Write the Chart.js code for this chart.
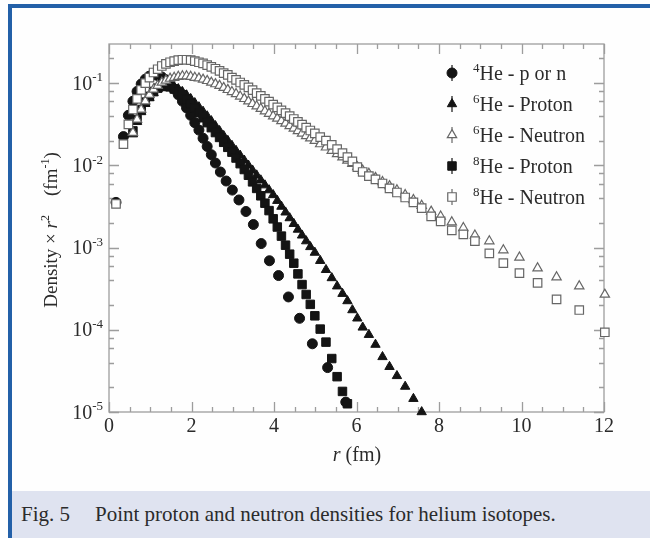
<!DOCTYPE html>
<html>
<head>
<meta charset="utf-8">
<title>Point proton and neutron densities for helium isotopes</title>
<script src="https://cdn.jsdelivr.net/npm/chart.js@4.4.1/dist/chart.umd.min.js"></script>
<style>
  html, body { margin: 0; padding: 0; background: #fff; }
  #figure { position: relative; width: 650px; height: 538px; overflow: hidden; background: #fefefe; }
  #frame {
    position: absolute; left: 8px; top: 4px; right: -10px; bottom: -10px;
    border-left: 4px solid #2360a8; border-top: 4px solid #2360a8;
  }
  #chart { position: absolute; left: 0; top: 0; }
  #caption {
    position: absolute; left: 12px; right: 0; top: 491px; height: 47px;
    background: #dfe3f0; color: #2b2b2b;
    font-family: "Liberation Serif", "Times New Roman", serif; font-size: 21px;
    line-height: 47px; padding-left: 9px; white-space: nowrap;
  }
  #caption .body { margin-left: 25px; }
</style>
</head>
<body>
<div id="figure">
  <div id="frame"></div>
  <canvas id="chart" width="650" height="538"></canvas>
  <div id="caption"><span>Fig. 5</span><span class="body">Point proton and neutron densities for helium isotopes.</span></div>
</div>
<script>
// radius grid shared by the 6He / 8He curves (fm)
const gridR = [
  0.17, 0.35, 0.47, 0.58, 0.68, 0.78, 0.88, 0.98, 1.08, 1.18,
  1.28, 1.38, 1.48, 1.58, 1.68, 1.78, 1.88, 1.98, 2.08, 2.18,
  2.28, 2.38, 2.48, 2.58, 2.68, 2.78, 2.88, 2.98, 3.08, 3.18,
  3.28, 3.38, 3.48, 3.58, 3.68, 3.78, 3.88, 3.98, 4.08, 4.18,
  4.28, 4.38, 4.48, 4.58, 4.68, 4.78, 4.88, 4.99, 5.12, 5.26,
  5.40, 5.53, 5.66, 5.78, 5.90, 6.02, 6.15, 6.30, 6.46, 6.63,
  6.80, 6.98, 7.18, 7.38, 7.58, 7.81, 8.04, 8.31, 8.59, 8.87,
  9.22, 9.56, 9.95, 10.39, 10.85, 11.40, 12.02
];

// 4He - p or n (own grid)
const he4R = [
  0.17, 0.35, 0.47, 0.58, 0.68, 0.78, 0.88, 0.98, 1.08, 1.18,
  1.28, 1.38, 1.48, 1.58, 1.68, 1.78, 1.88, 1.98, 2.08, 2.18,
  2.28, 2.38, 2.48, 2.58, 2.70, 2.84, 2.99, 3.15, 3.32, 3.50,
  3.69, 3.89, 4.11, 4.35, 4.62, 4.93, 5.30, 5.74
];
const he4Density = [
  0.00355, 0.0224, 0.0407, 0.0603, 0.0794, 0.0977, 0.112, 0.122, 0.126, 0.124,
  0.119, 0.110, 0.0977, 0.0851, 0.0724, 0.0603, 0.0501, 0.0407, 0.0331, 0.0269,
  0.0214, 0.0170, 0.0135, 0.0107, 0.00832, 0.00646, 0.00501, 0.00380, 0.00275, 0.00191,
  0.00112, 0.000692, 0.000457, 0.000251, 0.000138, 0.0000676, 0.0000347, 0.0000132
];

// 6He - Proton (gridR from 0.58 to 7.58)
const he6Proton = [
  0.0240, 0.0339, 0.0447, 0.0562, 0.0661, 0.0759, 0.0851, 0.0902, 0.0933, 0.0933,
  0.0902, 0.0851, 0.0785, 0.0716, 0.0646, 0.0575, 0.0513, 0.0452, 0.0398, 0.0347,
  0.0302, 0.0263, 0.0229, 0.0200, 0.0174, 0.0151, 0.0132, 0.0115, 0.0100, 0.00871,
  0.00759, 0.00661, 0.00575, 0.00501, 0.00437, 0.00372, 0.00316, 0.00269, 0.00229, 0.00195,
  0.00166, 0.00141, 0.00120, 0.00102, 0.000871, 0.000692, 0.000537, 0.000427, 0.000339, 0.000275,
  0.000224, 0.000174, 0.000138, 0.000107, 0.0000871, 0.0000661, 0.0000468, 0.0000355, 0.0000275, 0.0000204,
  0.0000145, 0.0000100
];

// 6He - Neutron (gridR from 0.58 to 12.02)
const he6Neutron = [
  0.0251, 0.0363, 0.0479, 0.0603, 0.0724, 0.0841, 0.0933, 0.102, 0.108,
  0.114, 0.117, 0.120, 0.122, 0.122, 0.120, 0.117, 0.115, 0.111, 0.107,
  0.102, 0.0977, 0.0933, 0.0881, 0.0832, 0.0785, 0.0741, 0.0692, 0.0646, 0.0603,
  0.0562, 0.0525, 0.0490, 0.0457, 0.0427, 0.0398, 0.0372, 0.0347, 0.0324, 0.0302,
  0.0282, 0.0263, 0.0245, 0.0229, 0.0214, 0.0200, 0.0182, 0.0166, 0.0151, 0.0138,
  0.0126, 0.0115, 0.0105, 0.00955, 0.00871, 0.00794, 0.00708, 0.00631, 0.00562, 0.00501,
  0.00437, 0.00380, 0.00324, 0.00275, 0.00240, 0.00204, 0.00174, 0.00141, 0.00120, 0.000933,
  0.000759, 0.000562, 0.000437, 0.000339, 0.000269
];

// 8He - Proton (gridR from 0.58 to 5.78)
const he8Proton = [
  0.0263, 0.0363, 0.0479, 0.0589, 0.0692, 0.0794, 0.0871, 0.0912, 0.0923, 0.0902,
  0.0851, 0.0794, 0.0724, 0.0646, 0.0569, 0.0501, 0.0437, 0.0380, 0.0331, 0.0288,
  0.0251, 0.0219, 0.0191, 0.0166, 0.0145, 0.0123, 0.0105, 0.00891, 0.00759, 0.00631,
  0.00525, 0.00427, 0.00347, 0.00282, 0.00224, 0.00178, 0.00138, 0.00107, 0.000832, 0.000646,
  0.000479, 0.000355, 0.000269, 0.000204, 0.000148, 0.000102, 0.0000708, 0.0000447, 0.0000269, 0.0000178,
  0.0000126
];

// 8He - Neutron (whole gridR)
const he8Neutron = [
  0.0034, 0.0182, 0.0316, 0.0479, 0.0646, 0.0832, 0.100, 0.117, 0.135, 0.148,
  0.162, 0.172, 0.180, 0.186, 0.191, 0.193, 0.193, 0.191, 0.186, 0.180,
  0.174, 0.166, 0.158, 0.150, 0.141, 0.133, 0.126, 0.117, 0.110, 0.102,
  0.0955, 0.0891, 0.0822, 0.0759, 0.0700, 0.0646, 0.0596, 0.0550, 0.0507, 0.0468,
  0.0432, 0.0398, 0.0367, 0.0339, 0.0313, 0.0288, 0.0266, 0.0245, 0.0221, 0.0200,
  0.0178, 0.0158, 0.0141, 0.0126, 0.0112, 0.00955, 0.00832, 0.00741, 0.00676, 0.00603,
  0.00525, 0.00468, 0.00407, 0.00355, 0.00302, 0.00240, 0.00209, 0.00162, 0.00145, 0.00120,
  0.000851, 0.000646, 0.000490, 0.000372, 0.000234, 0.000174, 0.0000933
];

// axis ticks and labels
const xTickLabels = [0, 2, 4, 6, 8, 10, 12];
const yTickExponents = [-1, -2, -3, -4, -5];
const yMinorMantissas = [2, 4, 6, 8];

const legendEntries = [
  { mass: '4', text: 'He - p or n', style: 'circle', open: false },
  { mass: '6', text: 'He - Proton', style: 'triangle', open: false },
  { mass: '6', text: 'He - Neutron', style: 'triangle', open: true },
  { mass: '8', text: 'He - Proton', style: 'rect', open: false },
  { mass: '8', text: 'He - Neutron', style: 'rect', open: true }
];

const SERIF = '"Liberation Serif", "Times New Roman", serif';
const INK = '#2b2b2b';
const AXIS = '#9d9d9d';
const BLACK = '#141414';
const OPEN = '#666666';
const RADIUS = { circle: 5, triangle: 5.4, rect: 6 };

const toPoints = (rs, vs) => vs.map((v, i) => ({ x: rs[i], y: v }));

function series(label, style, open, rs, vs, order) {
  return {
    label,
    data: toPoints(rs, vs),
    pointStyle: style,
    pointRadius: RADIUS[style],
    pointHoverRadius: RADIUS[style],
    pointBackgroundColor: open ? '#ffffff' : BLACK,
    pointBorderColor: open ? OPEN : BLACK,
    pointBorderWidth: open ? 1.2 : 1,
    showLine: false,
    clip: false,
    order
  };
}

// draw text made of runs: { t, sup, italic }
function drawRuns(ctx, parts, x, y, align, size) {
  const supSize = Math.round(size * 0.65);
  const fontOf = (p) => `${p.italic ? 'italic ' : ''}${p.sup ? supSize : size}px ${SERIF}`;
  let total = 0;
  const widths = parts.map((p) => {
    ctx.font = fontOf(p);
    const w = ctx.measureText(p.t).width;
    total += w;
    return w;
  });
  let cx = align === 'right' ? x - total : align === 'center' ? x - total / 2 : x;
  ctx.textAlign = 'left';
  ctx.textBaseline = 'alphabetic';
  parts.forEach((p, i) => {
    ctx.font = fontOf(p);
    ctx.fillText(p.t, cx, p.sup ? y - size * 0.42 : y);
    cx += widths[i];
  });
}

const axesPlugin = {
  id: 'axesPlugin',
  beforeDatasetsDraw(chart) {
    const { ctx, chartArea: a, scales } = chart;
    const xs = scales.x;
    const ys = scales.y;
    ctx.save();
    ctx.strokeStyle = AXIS;
    ctx.lineWidth = 1.3;
    ctx.strokeRect(a.left, a.top, a.right - a.left, a.bottom - a.top);

    ctx.beginPath();
    // x ticks, major every 2, minor every 0.5, pointing inward
    for (let v = 0; v <= 12.001; v += 0.5) {
      const px = Math.round(xs.getPixelForValue(v)) + 0.5;
      const len = Math.abs(v % 2) < 1e-6 ? 10 : 5;
      ctx.moveTo(px, a.bottom); ctx.lineTo(px, a.bottom - len);
      ctx.moveTo(px, a.top); ctx.lineTo(px, a.top + len);
    }
    // y ticks, decades and 2,4,6,8 minors
    yTickExponents.forEach((e) => {
      const py = Math.round(ys.getPixelForValue(Math.pow(10, e))) + 0.5;
      ctx.moveTo(a.left, py); ctx.lineTo(a.left + 10, py);
      ctx.moveTo(a.right, py); ctx.lineTo(a.right - 10, py);
      yMinorMantissas.forEach((m) => {
        const v = m * Math.pow(10, e);
        if (v >= ys.max) return;
        const pm = Math.round(ys.getPixelForValue(v)) + 0.5;
        ctx.moveTo(a.left, pm); ctx.lineTo(a.left + 5, pm);
        ctx.moveTo(a.right, pm); ctx.lineTo(a.right - 5, pm);
      });
    });
    ctx.stroke();
    ctx.restore();
  },
  afterDraw(chart) {
    const { ctx, chartArea: a, scales } = chart;
    const xs = scales.x;
    const ys = scales.y;
    ctx.save();
    ctx.fillStyle = INK;

    // tick labels
    xTickLabels.forEach((v) => {
      drawRuns(ctx, [{ t: String(v) }], xs.getPixelForValue(v), a.bottom + 20, 'center', 20);
    });
    yTickExponents.forEach((e) => {
      const py = ys.getPixelForValue(Math.pow(10, e));
      drawRuns(ctx, [{ t: '10' }, { t: String(e), sup: true }], a.left - 6, py + 6.5, 'right', 20);
    });

    // axis titles
    drawRuns(ctx, [{ t: 'r', italic: true }, { t: ' (fm)' }], 357, 461, 'center', 20);
    ctx.translate(57, 230);
    ctx.rotate(-Math.PI / 2);
    drawRuns(ctx, [
      { t: 'Density \u00d7 ' }, { t: 'r', italic: true }, { t: '2', sup: true },
      { t: '    (fm' }, { t: '-1', sup: true }, { t: ')' }
    ], 0, 0, 'center', 19);
    ctx.setTransform(1, 0, 0, 1, 0, 0);

    // legend inside the plot
    const mx = 452;
    legendEntries.forEach((entry, i) => {
      const y = 73 + i * 31;
      ctx.strokeStyle = entry.open ? OPEN : BLACK;
      ctx.lineWidth = 1.2;
      ctx.beginPath();
      ctx.moveTo(mx, y - 8); ctx.lineTo(mx, y + 8);
      ctx.stroke();
      ctx.fillStyle = entry.open ? '#ffffff' : BLACK;
      ctx.lineWidth = entry.open ? 1.2 : 1;
      Chart.helpers.drawPoint(ctx, {
        pointStyle: entry.style, radius: RADIUS[entry.style], rotation: 0, borderWidth: ctx.lineWidth
      }, mx, y);
      ctx.fillStyle = INK;
      drawRuns(ctx, [{ t: entry.mass, sup: true }, { t: entry.text }], 473, y + 7, 'left', 20);
    });
    ctx.restore();
  }
};

new Chart(document.getElementById('chart'), {
  type: 'scatter',
  data: {
    datasets: [
      series('4He - p or n', 'circle', false, he4R, he4Density, 3),
      series('6He - Proton', 'triangle', false, gridR.slice(3, 65), he6Proton, 4),
      series('6He - Neutron', 'triangle', true, gridR.slice(3), he6Neutron, 1),
      series('8He - Proton', 'rect', false, gridR.slice(3, 54), he8Proton, 2),
      series('8He - Neutron', 'rect', true, gridR, he8Neutron, 0)
    ]
  },
  options: {
    responsive: false,
    animation: false,
    devicePixelRatio: 1,
    layout: { padding: { left: 109, top: 44, right: 46, bottom: 126 } },
    scales: {
      x: { type: 'linear', min: 0, max: 12, display: false },
      y: { type: 'logarithmic', min: 1e-5, max: 0.3, display: false }
    },
    plugins: {
      legend: { display: false },
      tooltip: { enabled: false }
    }
  },
  plugins: [axesPlugin]
});
</script>
</body>
</html>
